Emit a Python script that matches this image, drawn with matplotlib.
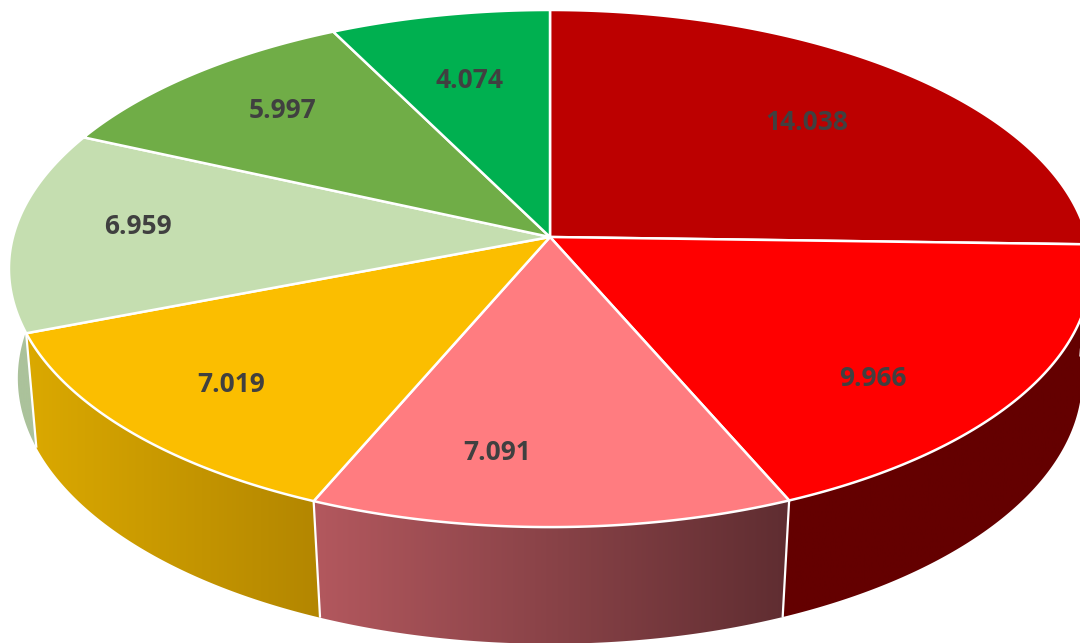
import matplotlib
matplotlib.use("Agg")
import matplotlib.pyplot as plt
import numpy as np
from matplotlib.colors import LinearSegmentedColormap
from matplotlib.patches import Polygon

values = [14.038, 9.966, 7.091, 7.019, 6.959, 5.997, 4.074]
labels = ["14.038", "9.966", "7.091", "7.019", "6.959", "5.997", "4.074"]
top_colors = ["#bc0000", "#ff0000", "#ff7c80", "#fbbe00", "#c5deb0", "#70ad47", "#00b050"]
# left and right colour of the gradient on the outer wall
side_colors = [
    ("#640000", "#640000"),
    ("#640000", "#640000"),
    ("#b3585e", "#5f2d31"),
    ("#dba900", "#b38600"),
    ("#abc29b", "#abc29b"),
    ("#70ad47", "#70ad47"),
    ("#00b050", "#00b050"),
]
label_xy = [(807, 122), (873, 378), (497, 452), (231, 385), (138, 226), (283, 111), (470, 80)]

# perspective of the disc, in pixels of the picture
CX, CY = 550, 237
RX, RY = 537, 254.7
PERSP = 0.122
DEPTH = 112
WALL_X, WALL_Y = 0.985, 1.03
WALL_PERSP = 0.11


def project(theta, r=1.0, wall=False):
    # theta is clockwise from twelve o'clock
    x = r * np.sin(theta)
    y = r * np.cos(theta)
    if wall:
        den = 1 + WALL_PERSP * y
        return CX + WALL_X * RX * x / den, CY + DEPTH - WALL_Y * RY * y / den
    den = 1 + PERSP * y
    return CX + RX * x / den, CY - RY * y / den


fig = plt.figure(figsize=(10.8, 6.43), dpi=100)
ax = fig.add_axes([0, 0, 1, 1])
ax.set_xlim(0, 1080)
ax.set_ylim(643, 0)
ax.axis("off")

edges = np.concatenate([[0], np.cumsum(values)]) / sum(values) * 2 * np.pi

# outer walls first, the top faces cover the back part of them
for i in range(len(values)):
    t = np.linspace(edges[i], edges[i + 1], 120)
    tx, ty = project(t)
    bx, by = project(t, wall=True)
    pts = np.column_stack([np.concatenate([tx, bx[::-1]]), np.concatenate([ty, by[::-1]])])
    poly = Polygon(pts, closed=True, facecolor="none", edgecolor="none", zorder=1)
    ax.add_patch(poly)
    cmap = LinearSegmentedColormap.from_list("wall", side_colors[i])
    img = ax.imshow(
        np.linspace(0, 1, 256).reshape(1, -1),
        cmap=cmap,
        extent=[pts[:, 0].min(), pts[:, 0].max(), pts[:, 1].max(), pts[:, 1].min()],
        aspect="auto",
        zorder=1,
    )
    img.set_clip_path(poly)

ax.set_xlim(0, 1080)
ax.set_ylim(643, 0)

# white seams between the walls
for e in edges[:-1]:
    x0, y0 = project(e)
    x1, y1 = project(e, wall=True)
    ax.plot([x0, x1], [y0, y1], color="white", lw=1.6, zorder=2, solid_capstyle="butt")

# top faces
for i in range(len(values)):
    t = np.linspace(edges[i], edges[i + 1], 120)
    tx, ty = project(t)
    pts = np.column_stack([np.concatenate([[CX], tx]), np.concatenate([[CY], ty])])
    ax.add_patch(
        Polygon(pts, closed=True, facecolor=top_colors[i], edgecolor="white", lw=1.8,
                joinstyle="round", zorder=3)
    )

for text, (x, y) in zip(labels, label_xy):
    ax.text(x, y, text, ha="center", va="center", fontsize=19, fontweight="bold",
            family="Open Sans", color="#404040", zorder=4)

fig.savefig("out.png", dpi=100)
